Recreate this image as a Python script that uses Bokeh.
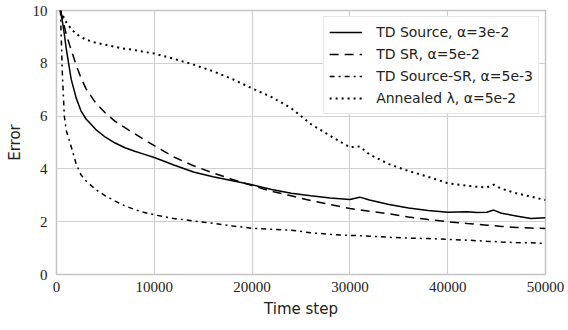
from bokeh.plotting import figure
from bokeh.models import Range1d, FixedTicker
from bokeh.embed import file_html
from bokeh.resources import INLINE

# ---- data ----
time_step = [400, 600, 800, 1000, 1500, 2000, 2500, 3000, 4000, 5000, 6000, 7000, 8000, 9000,
             10000, 12000, 14000, 16000, 18000, 20000, 22000, 24000, 26000, 28000, 30000, 31000,
             32000, 34000, 36000, 38000, 40000, 42000, 43000, 44000, 44700, 45500, 47000, 48500, 50000]

td_source = [10.0, 9.6, 9.1, 8.55, 7.4, 6.7, 6.2, 5.9, 5.5, 5.2, 4.98, 4.8, 4.67, 4.55,
             4.43, 4.15, 3.88, 3.7, 3.55, 3.4, 3.22, 3.08, 2.98, 2.9, 2.84, 2.93,
             2.82, 2.65, 2.52, 2.42, 2.36, 2.38, 2.35, 2.36, 2.44, 2.32, 2.22, 2.12, 2.15]

td_sr = [10.0, 9.75, 9.4, 9.1, 8.5, 7.95, 7.45, 7.05, 6.5, 6.12, 5.8, 5.56, 5.33, 5.1,
         4.88, 4.45, 4.12, 3.85, 3.6, 3.37, 3.15, 2.98, 2.8, 2.65, 2.5, 2.45,
         2.4, 2.3, 2.18, 2.08, 2.0, 1.93, 1.9, 1.87, 1.85, 1.82, 1.78, 1.76, 1.74]

td_source_sr = [10.0, 7.6, 6.0, 5.45, 4.85, 4.2, 3.78, 3.55, 3.22, 2.98, 2.78, 2.6, 2.46, 2.35,
                2.26, 2.12, 2.03, 1.94, 1.84, 1.75, 1.71, 1.68, 1.58, 1.52, 1.48, 1.47,
                1.45, 1.41, 1.38, 1.36, 1.33, 1.3, 1.28, 1.26, 1.25, 1.23, 1.21, 1.2, 1.18]

annealed = [10.0, 9.85, 9.7, 9.55, 9.3, 9.12, 9.0, 8.9, 8.78, 8.7, 8.62, 8.55, 8.5, 8.43,
            8.37, 8.17, 7.95, 7.7, 7.4, 7.05, 6.72, 6.3, 5.7, 5.25, 4.82, 4.85,
            4.55, 4.18, 3.92, 3.7, 3.46, 3.36, 3.32, 3.3, 3.4, 3.25, 3.08, 2.95, 2.82]

series_labels = ["TD Source, α=3e-2", "TD SR, α=5e-2",
                 "TD Source-SR, α=5e-3", "Annealed λ, α=5e-2"]
x_ticks = [0, 10000, 20000, 30000, 40000, 50000]
y_ticks = [0, 2, 4, 6, 8, 10]

# ---- figure ----
p = figure(width=568, height=330, output_backend="svg", toolbar_location=None,
           x_range=Range1d(0, 50000), y_range=Range1d(0, 10),
           min_border_left=56, min_border_right=23, min_border_top=10, min_border_bottom=56)

p.line(time_step, td_source, line_color="black", line_width=1.5, legend_label=series_labels[0])
p.line(time_step, td_sr, line_color="black", line_width=1.5, line_dash="9 6",
       legend_label=series_labels[1])
p.line(time_step, td_source_sr, line_color="black", line_width=1.5, line_dash="5 4 2 4",
       legend_label=series_labels[2])
p.line(time_step, annealed, line_color="black", line_width=2, line_dash="2 4",
       legend_label=series_labels[3])

p.xaxis.ticker = FixedTicker(ticks=x_ticks)
p.yaxis.ticker = FixedTicker(ticks=y_ticks)
p.xaxis.axis_label = "Time step"
p.yaxis.axis_label = "Error"

for ax in (p.xaxis, p.yaxis):
    ax.axis_line_color = None
    ax.major_tick_line_color = None
    ax.minor_tick_line_color = None
    ax.major_tick_out = 0
    ax.major_tick_in = 0
    ax.minor_tick_out = 0
    ax.minor_tick_in = 0
    ax.major_label_text_font = "Liberation Serif"
    ax.major_label_text_font_size = "15px"
    ax.major_label_text_color = "#222222"
    ax.axis_label_text_font = "DejaVu Sans"
    ax.axis_label_text_font_size = "15px"
    ax.axis_label_text_font_style = "normal"
    ax.axis_label_text_color = "#222222"

p.xaxis.major_label_standoff = 7
p.xaxis.axis_label_standoff = 5
p.yaxis.major_label_standoff = 9
p.yaxis.axis_label_standoff = 6

p.xgrid.grid_line_color = "#d0d0d0"
p.ygrid.grid_line_color = "#d0d0d0"
p.xgrid.grid_line_width = 1.2
p.ygrid.grid_line_width = 1.2
p.outline_line_color = "#c4c4c4"
p.outline_line_width = 1.5

lg = p.legend[0]
lg.location = "top_right"
lg.margin = 6
lg.padding = 5
lg.spacing = 2
lg.glyph_width = 33
lg.glyph_height = 20
lg.label_height = 20
lg.label_standoff = 14
lg.label_text_font = "DejaVu Sans"
lg.label_text_font_size = "14px"
lg.label_text_color = "#222222"
lg.border_line_color = "#d0d0d0"
lg.border_line_width = 1
lg.background_fill_alpha = 1.0

open("out.html", "w").write(file_html(p, INLINE))
